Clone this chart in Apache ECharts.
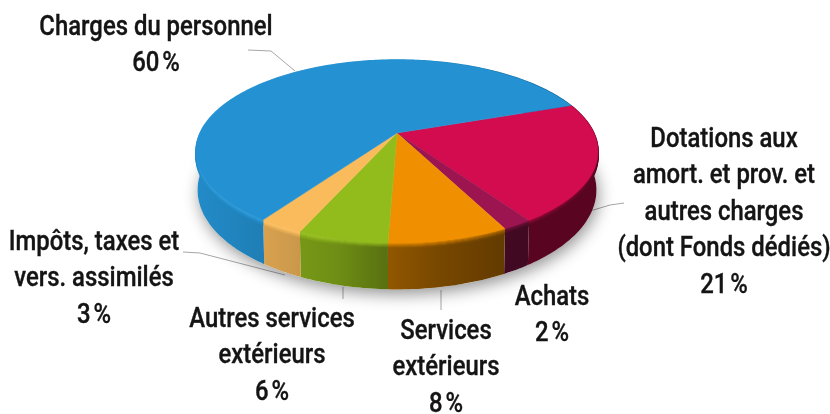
<!DOCTYPE html>
<html><head><meta charset="utf-8">
<style>html,body{margin:0;padding:0;background:#fff}#c{width:830px;height:414px}</style>
<script src="https://cdn.jsdelivr.net/npm/echarts@6/dist/echarts.min.js"></script>
</head><body><div id="c"></div>
<script>
// data, clockwise from the blue / crimson boundary
const categories = ['Dotations aux\namort. et prov. et\nautres charges\n(dont Fonds dédiés)','Achats','Services\nextérieurs','Autres services\nextérieurs','Impôts, taxes et\nvers. assimilés','Charges du personnel'];
const values = [21,2,8,6,3,60];
const colors = ['#d30b4f','#9c1550','#f09000','#92bb1c','#fabb5c','#2492d2'];
const labelCenters = [[724,140],[552,298],[446,332],[272,320],[94,243],[156,28]];
const leaders = [
  [[590,211],[610,205],[624,203]],
  null,
  [[441,290],[441,310]],
  [[343,287],[343,299]],
  [[183,252],[200,253],[285,275]],
  [[248,50],[271,51],[295,71]]
];

// projected disc
const CX=397, APEX=133, A=196.9, B=60.9, K=0.2022, START=-19.5, DEPTH=37, SHRINK=0.992;
const total = values.reduce((a,b)=>a+b,0);
const rad = d=>d*Math.PI/180;
const ranges = []; { let s=START; values.forEach(v=>{const e=s+v/total*360; ranges.push([s,e]); s=e;}); }
function topPt(t){const u=Math.cos(rad(t)),v=Math.sin(rad(t)),d=1-K*v;return [CX+A*u/d,(B*v+APEX)/d];}
function botPt(t){const u=Math.cos(rad(t)),v=Math.sin(rad(t)),d=1-K*v;return [CX+SHRINK*A*u/d,(B*v+APEX+DEPTH)/d];}
function arc(f,s,e){const n=Math.max(2,Math.ceil(Math.abs(e-s)));const r=[];for(let i=0;i<=n;i++)r.push(f(s+(e-s)*i/n));return r;}
function shade(hex,f){const n=parseInt(hex.slice(1),16);const c=[n>>16,(n>>8)&255,n&255].map(x=>f<=1?x*f:x+(255-x)*(f-1));return `rgb(${c.map(Math.round).join(',')})`;}
const WALL=[[0,.95],[.17,.86],[.35,.76],[.46,.62],[.6,.5],[.75,.42],[1,.42]];
function grad(hex,stops){return {type:'linear',global:true,x:196,y:0,x2:598,y2:0,colorStops:stops.map(s=>({offset:s[0],color:shade(hex,s[1])}))};}
function rimStops(mix){ // mix 0 = highlight, 1 = wall tone
  const hi=[[0,1.12],[.3,1.12],[.46,1.02],[.65,.92],[.8,.75],[1,.55]];
  return hi.map(h=>{const w=WALL.reduce((p,q)=>q[0]<=h[0]?q:p,WALL[0])[1];return [h[0],h[1]*(1-mix)+w*mix];});
}

const chart = echarts.init(document.getElementById('c'),null,{renderer:'canvas'});
function wallItem(params,api){
  const i=params.dataIndex, r=ranges[i], c=colors[i], ch=[];
  if(i===0){
    ch.push({type:'polygon',shape:{points:arc(botPt,0,360)},
      style:{fill:'#fff',shadowBlur:16,shadowColor:'rgba(0,0,0,.42)',shadowOffsetY:5,shadowOffsetX:2}});
  }
  const t=arc(topPt,r[0],r[1]), b=arc(botPt,r[0],r[1]);
  ch.push({type:'polygon',shape:{points:t.concat(b.slice().reverse())},style:{fill:grad(c,WALL)}});
  for(let d=0;d<=5;d++){
    ch.push({type:'polyline',shape:{points:t.map(p=>[p[0],p[1]+d])},
      style:{fill:null,stroke:grad(c,rimStops(d/5)),lineWidth:1.4}});
  }
  return {type:'group',children:ch};
}
function topItem(params,api){
  const i=params.dataIndex, r=ranges[i];
  return {type:'polygon',shape:{points:[[CX,APEX]].concat(arc(topPt,r[0],r[1]))},
    style:{fill:colors[i],stroke:colors[i],lineWidth:.5}};
}
const graphics=[];
leaders.forEach(l=>{ if(l) graphics.push({type:'polyline',silent:true,z:1,shape:{points:l},style:{fill:null,stroke:'#a6a6a6',lineWidth:1}}); });
categories.forEach((n,i)=>{
  graphics.push({type:'text',silent:true,z:5,x:labelCenters[i][0],y:labelCenters[i][1]-18,scaleX:.885,
    style:{text:n+'\n'+values[i]+'\u202f%',fontFamily:'Roboto',fontWeight:500,fontSize:27,lineHeight:36.4,
      fill:'#141414',stroke:'#141414',lineWidth:.35,align:'center',verticalAlign:'top'}});
});
chart.setOption({
  animation:false,
  graphic:graphics,
  series:[
    {type:'custom',coordinateSystem:'none',silent:true,z:2,data:values,renderItem:wallItem},
    {type:'custom',coordinateSystem:'none',silent:true,z:3,data:values,renderItem:topItem}
  ]
});
</script></body></html>
